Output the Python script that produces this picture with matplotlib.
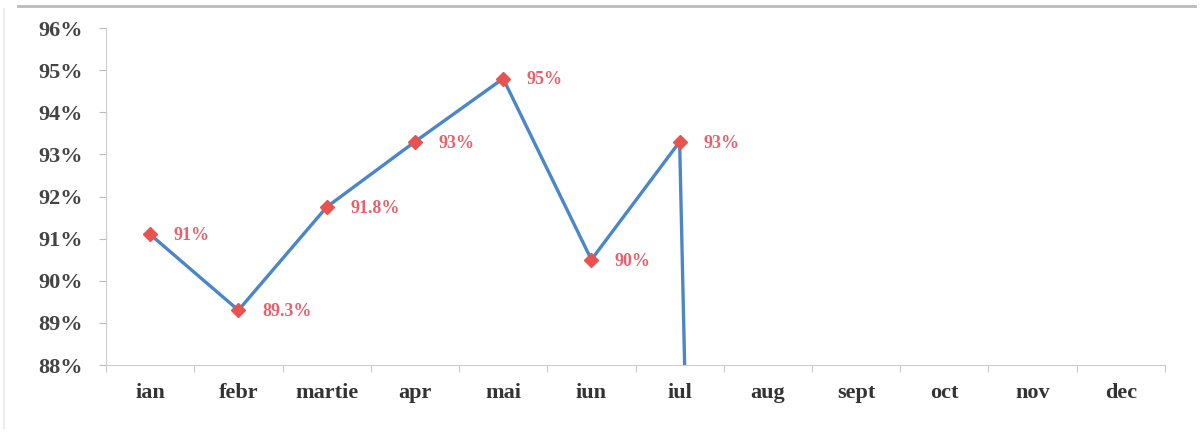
import matplotlib
matplotlib.use("Agg")
import matplotlib.pyplot as plt
from matplotlib.ticker import FuncFormatter, FixedLocator
import numpy as np

months = ["ian", "febr", "martie", "apr", "mai", "iun", "iul", "aug", "sept", "oct", "nov", "dec"]
values = [91.1, 89.3, 91.75, 93.3, 94.8, 90.5, 93.3, 0.0]
labels = ["91%", "89.3%", "91.8%", "93%", "95%", "90%", "93%"]
yticks = [88, 89, 90, 91, 92, 93, 94, 95, 96]

plt.rcParams['font.family'] = ['Liberation Serif', 'DejaVu Serif']

fig = plt.figure(figsize=(12.01, 4.41), dpi=100)
fig.patch.set_facecolor('white')
ax = fig.add_axes([0.0883, 0.1723, 0.970 - 0.0883, 0.9365 - 0.1723])

x = np.arange(len(values))
ax.plot(x, values, color='#4A86C8', lw=2.4, zorder=2, clip_on=True)
ax.plot(x[:len(labels)], values[:len(labels)], ls='none', marker='D', ms=7.5,
        color='#E8524F', mec='#E8524F', zorder=3)
for xi, v, t in zip(x, values, labels):
    ax.annotate(t, (xi, v), xytext=(17, -1), textcoords='offset points',
                ha='left', va='center', color='#E8606A', fontsize=13, fontweight='bold')

ax.set_xlim(-0.5, len(months) - 0.5)
ax.set_ylim(88, 96)
ax.set_yticks(yticks)
ax.yaxis.set_major_formatter(FuncFormatter(lambda v, p: f"{v:.0f}%"))
ax.set_xticks(np.arange(len(months)))
ax.set_xticklabels(months)
ax.xaxis.set_minor_locator(FixedLocator(np.arange(-0.5, len(months), 1.0)))
ax.tick_params(axis='x', which='major', length=0, pad=13, labelsize=16, colors='#333333')
ax.tick_params(axis='x', which='minor', length=5, color='#BBBBBB')
ax.tick_params(axis='y', length=5, color='#BBBBBB', pad=12, labelsize=16, labelcolor='#444444')
for lab in ax.get_xticklabels() + ax.get_yticklabels():
    lab.set_fontweight('bold')

for s in ['top', 'right']:
    ax.spines[s].set_visible(False)
ax.spines['left'].set_color('#CCCCCC')
ax.spines['bottom'].set_color('#CCCCCC')

# top border line of the frame
fig.add_artist(plt.Line2D([0.015, 0.995], [0.987, 0.987], color='#BBBBBB', lw=2, transform=fig.transFigure))
fig.add_artist(plt.Line2D([0.003, 0.003], [0.03, 0.98], color='#EEEEEE', lw=1.5, transform=fig.transFigure))

fig.savefig("out.png", dpi=100, facecolor='white')
